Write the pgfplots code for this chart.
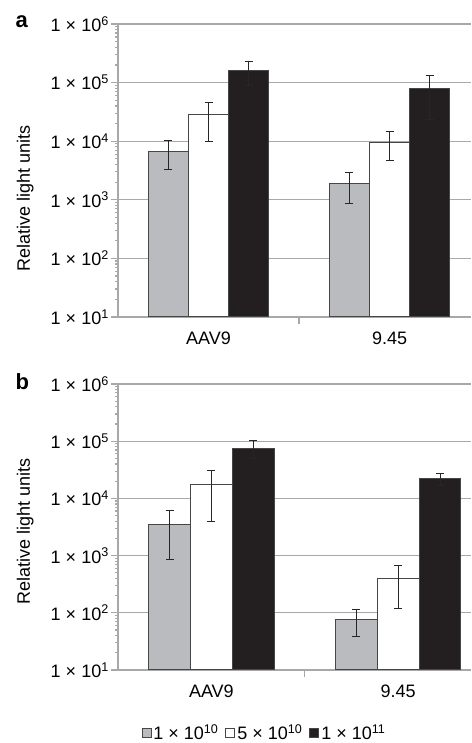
\documentclass[border=0pt]{standalone}
\usepackage{fontspec}
\setmainfont{Liberation Sans}
\usepackage{pgfplots}
\pgfplotsset{compat=1.18}
\definecolor{barGray}{RGB}{185,187,191}
\definecolor{barBlack}{RGB}{35,31,32}
\definecolor{gridGray}{RGB}{168,168,168}
\definecolor{edgeGray}{RGB}{70,70,70}

\pgfplotsset{
  every axis/.append style={
    scale only axis, width=353pt,
    font=\fontsize{18}{21}\selectfont,
    ymin=10, ymax=1000000, xmin=-0.5,
    ytick={10,100,1000,10000,100000,1000000},
    yticklabels={1 × 10\textsuperscript{1},1 × 10\textsuperscript{2},1 × 10\textsuperscript{3},
                 1 × 10\textsuperscript{4},1 × 10\textsuperscript{5},1 × 10\textsuperscript{6}},
    yticklabel style={inner sep=1pt, xshift=-1pt},
    ymajorgrids, minor y tick num=0,
    grid style={gridGray, line width=1.2pt},
    axis x line*=bottom, axis y line*=left,
    axis line style={gridGray, line width=1.2pt},
    tick align=outside, major tick length=7pt,
    tick style={gridGray, line width=1.2pt},
    xtick={0.5}, xticklabels={},
    extra x ticks={0,1}, extra x tick labels={AAV9,9.45},
    extra x tick style={major tick length=0pt, xticklabel style={yshift=-11pt}},
    ylabel={Relative light units},
    clip=false,
  },
  barstyle/.style={draw=edgeGray, line width=1pt, fill=#1,
    error bars/y dir=both, error bars/y explicit,
    error bars/error bar style={black!85, line width=1pt},
    error bars/error mark=-,
    error bars/error mark options={black!85, rotate=90, mark size=4pt, line width=1pt}},
}

\begin{document}
\begin{tikzpicture}

% panel a
\begin{semilogyaxis}[at={(118pt,426pt)}, anchor=south west, height=293pt, xmax=1.45,
  ybar=0pt, bar width=0.222, log origin=infty,
  ylabel style={at={(axis description cs:-0.263,0.403)}, anchor=center}]
  \addplot[barstyle=barGray]
    coordinates {(0,6700) +- (0,3400) (1,1900) +- (0,1050)};
  \addplot[barstyle=white]
    coordinates {(0,28000) +- (0,18000) (1,9600) +- (0,5000)};
  \addplot[barstyle=barBlack]
    coordinates {(0,158000) +- (0,70000) (1,78000) +- (0,55000)};
\end{semilogyaxis}

% panel b
\begin{semilogyaxis}[at={(118pt,73pt)}, anchor=south west, height=286pt, xmax=1.39,
  ybar=0pt, bar width=0.224, log origin=infty,
  ylabel style={at={(axis description cs:-0.263,0.486)}, anchor=center},
  legend image code/.code={\draw[#1,draw=edgeGray,line width=0.9pt] (0pt,-4.5pt) rectangle (9pt,4.5pt);},
  legend style={at={(axis description cs:0.415,-0.22)}, anchor=center,
    draw=none, fill=none, legend columns=-1,
    /tikz/every even column/.append style={column sep=5pt}}]
  \addplot[barstyle=barGray]
    coordinates {(0,3500) +- (0,2650) (1,77) +- (0,38)};
  \addlegendentry{1 × 10\textsuperscript{10}}
  \addplot[barstyle=white]
    coordinates {(0,17500) +- (0,13500) (1,395) +- (0,275)};
  \addlegendentry{5 × 10\textsuperscript{10}}
  \addplot[barstyle=barBlack]
    coordinates {(0,75000) +- (0,26000) (1,22000) +- (0,5000)};
  \addlegendentry{1 × 10\textsuperscript{11}}
\end{semilogyaxis}

\node[font=\bfseries\fontsize{22}{22}\selectfont, anchor=base west] at (12pt,715pt) {a};
\node[font=\bfseries\fontsize{22}{22}\selectfont, anchor=base west] at (12pt,353pt) {b};

\pgfresetboundingbox
\path (0pt,0pt) rectangle (471pt,743pt);
\end{tikzpicture}
\end{document}
